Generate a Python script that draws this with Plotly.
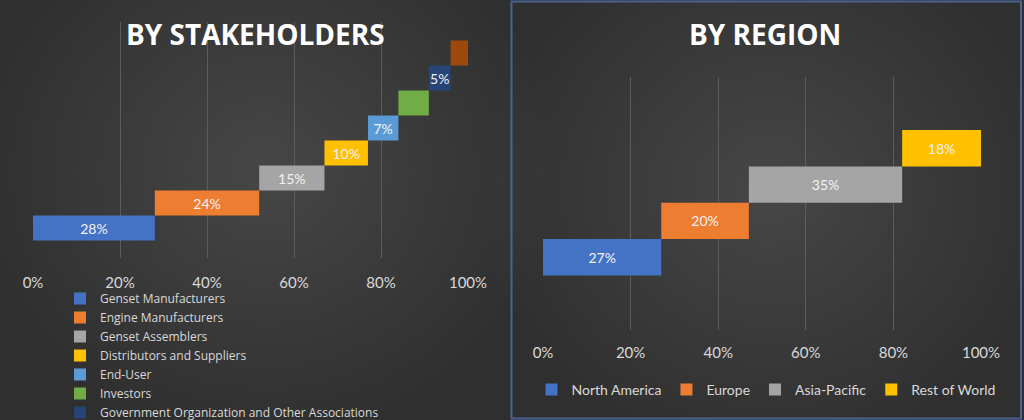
import numpy as np
import plotly.graph_objects as go

# Stakeholder shares (%), bottom row first
stake_names = ['Genset Manufacturers', 'Engine Manufacturers', 'Genset Assemblers',
               'Distributors and Suppliers', 'End-User', 'Investors',
               'Government Organization and Other Associations', 'Others']
stake_values = [28, 24, 15, 10, 7, 7, 5, 4]
stake_labels = ['28%', '24%', '15%', '10%', '7%', '', '5%', '']
stake_colors = ['#4472C4', '#ED7D31', '#A5A5A5', '#FFC000',
                '#5B9BD5', '#70AD47', '#264478', '#9E480E']

# Regional shares (%)
region_names = ['North America', 'Europe', 'Asia-Pacific', 'Rest of World']
region_values = [27, 20, 35, 18]
region_colors = ['#4472C4', '#ED7D31', '#A5A5A5', '#FFC000']

pct_ticks = [0, 20, 40, 60, 80, 100]
pct_labels = ['0%', '20%', '40%', '60%', '80%', '100%']

FONT = 'Lato'
TXT = '#d9d9d9'

fig = go.Figure()

# waterfall-like steps: each bar starts where the previous one ended
stake_base = np.concatenate([[0], np.cumsum(stake_values)[:-1]])
for i, name in enumerate(stake_names):
    fig.add_trace(go.Bar(
        x=[stake_values[i]], y=[i], base=[stake_base[i]], orientation='h',
        width=1, name=name, marker=dict(color=stake_colors[i], line=dict(width=0)),
        text=[stake_labels[i]], textposition='inside', insidetextanchor='middle',
        constraintext='none', textangle=0,
        textfont=dict(family=FONT, size=14, color='#f2f2f2'),
        xaxis='x', yaxis='y', legend='legend',
        showlegend=(i < 7), hoverinfo='skip'))

region_base = np.concatenate([[0], np.cumsum(region_values)[:-1]])
for i, name in enumerate(region_names):
    fig.add_trace(go.Bar(
        x=[region_values[i]], y=[i], base=[region_base[i]], orientation='h',
        width=1, name=name, marker=dict(color=region_colors[i], line=dict(width=0)),
        text=[f'{region_values[i]}%'], textposition='inside', insidetextanchor='middle',
        constraintext='none', textangle=0,
        textfont=dict(family=FONT, size=14, color='#f2f2f2'),
        xaxis='x2', yaxis='y2', legend='legend2', hoverinfo='skip'))

# soft glow for both panels, built from many faint ellipses
shapes = []
for cx, cy, rx0, ry0 in [(265, 170, 290, 270), (770, 190, 285, 270)]:
    for k in range(22):
        f = 1 - k / 23
        rx, ry = rx0 * f, ry0 * f
        shapes.append(dict(type='circle', xref='paper', yref='paper', layer='below',
                           x0=(cx - rx) / 1024, x1=(cx + rx) / 1024,
                           y0=(420 - cy - ry) / 420, y1=(420 - cy + ry) / 420,
                           fillcolor='rgba(255,255,255,0.0075)', line=dict(width=0)))
# right panel frame
shapes.append(dict(type='rect', xref='paper', yref='paper', layer='above',
                   x0=511.5 / 1024, x1=1021 / 1024, y0=1.5 / 420, y1=418.5 / 420,
                   line=dict(color='#4a6390', width=2)))

axis_common = dict(range=[0, 100], tickvals=pct_ticks, ticktext=pct_labels,
                   showgrid=True, gridcolor='#5c5c5c', gridwidth=1, zeroline=False,
                   showline=False, ticks='', fixedrange=True,
                   tickfont=dict(family=FONT, size=15, color=TXT))

fig.update_layout(
    width=1024, height=420, autosize=False,
    margin=dict(l=0, r=0, t=0, b=0, autoexpand=False),
    paper_bgcolor='#2f2f2f', plot_bgcolor='rgba(0,0,0,0)',
    barmode='overlay', shapes=shapes,
    xaxis=dict(domain=[33 / 1024, 468 / 1024], anchor='y', ticklabelstandoff=14, **axis_common),
    yaxis=dict(domain=[(420 - 258) / 420, (420 - 22) / 420], anchor='x',
               range=[-1.2, 8.24], visible=False, fixedrange=True),
    xaxis2=dict(domain=[543 / 1024, 981 / 1024], anchor='y2', ticklabelstandoff=12, **axis_common),
    yaxis2=dict(domain=[(420 - 330) / 420, (420 - 77) / 420], anchor='x2',
                range=[-2.0, 4.96], visible=False, fixedrange=True),
    legend=dict(x=60 / 1024, y=(420 - 284) / 420, xanchor='left', yanchor='top',
                orientation='v', bgcolor='rgba(0,0,0,0)', tracegroupgap=0,
                font=dict(family='Open Sans', size=12, color=TXT), itemclick=False),
    legend2=dict(x=766 / 1024, y=(420 - 390) / 420, xanchor='center', yanchor='middle',
                 orientation='h', bgcolor='rgba(0,0,0,0)',
                 font=dict(family=FONT, size=14, color=TXT), itemclick=False),
    annotations=[
        dict(text='<b>BY STAKEHOLDERS</b>', x=255 / 1024, y=(420 - 34) / 420,
             xref='paper', yref='paper', showarrow=False, xanchor='center', yanchor='middle',
             font=dict(family='Open Sans', size=28, color='#ffffff')),
        dict(text='<b>BY REGION</b>', x=765 / 1024, y=(420 - 34) / 420,
             xref='paper', yref='paper', showarrow=False, xanchor='center', yanchor='middle',
             font=dict(family='Open Sans', size=28, color='#ffffff')),
    ],
)

fig.write_html('out.html', config={'displayModeBar': False},
               post_script="document.body.style.margin='0';document.body.style.overflow='hidden';")
